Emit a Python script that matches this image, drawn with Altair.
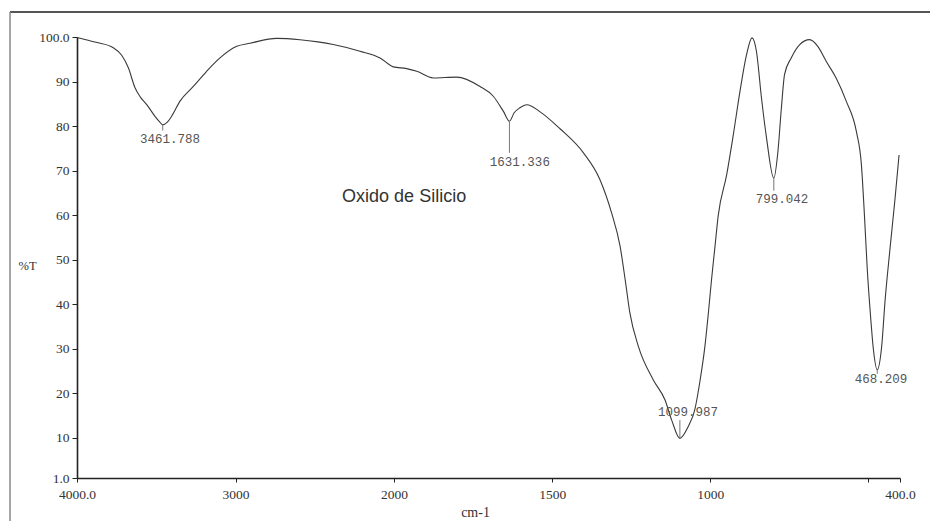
import altair as alt
import pandas as pd

# ---- spectrum ----
wavenumber = [4000, 3880, 3771, 3718, 3676, 3634, 3600, 3560, 3508, 3480, 3459, 3430,
              3403, 3350, 3266, 3182, 3098, 2992, 2908, 2740, 2593, 2480, 2383, 2215,
              2088, 2004, 1960, 1928, 1876, 1802, 1728, 1686, 1654, 1635, 1620, 1602,
              1580, 1538, 1475, 1401, 1349, 1312, 1285, 1269, 1254, 1227, 1180, 1143,
              1122, 1096, 1070, 1049, 1032, 1017, 1006, 996, 985, 975, 948, 927, 906,
              885, 868, 854, 838, 822, 799, 786, 775, 765, 744, 717, 686, 660, 633, 602,
              570, 538, 522, 512, 504, 493, 484, 472, 458, 447, 432, 416, 403]
transmittance = [99.9, 98.8, 97.6, 95.9, 93.1, 88.6, 86.5, 84.8, 82.2, 81.0, 80.3, 80.9,
                 82.2, 85.6, 88.9, 92.3, 95.3, 97.9, 98.6, 99.7, 99.4, 98.9, 98.3, 96.8,
                 95.3, 93.3, 92.9, 92.3, 90.8, 91.0, 88.9, 86.7, 83.3, 81.1, 83.0, 84.1,
                 84.8, 83.2, 79.4, 74.0, 68.0, 60.5, 53.0, 45.5, 38.0, 30.5, 23.0, 18.5,
                 14.0, 9.9, 12.5, 16.3, 23.0, 30.5, 38.0, 45.5, 53.0, 59.8, 69.1, 78.1, 87.8,
                 96.1, 99.8, 96.8, 86.3, 77.3, 68.3, 74.3, 84.1, 91.6, 95.3, 98.3, 99.4, 97.9,
                 94.5, 90.8, 85.6, 78.8, 71.3, 59.4, 48.5, 37.2, 29.8, 25.3, 30.5, 41.0,
                 52.2, 63.5, 73.5]

# ---- peak annotations ----
peak_labels = ["3461.788", "1631.336", "1099.987", "799.042", "468.209"]
peak_wn = [3459, 1635, 1096, 799, 472]
peak_t = [80.3, 81.1, 9.9, 68.3, 25.3]
marker_end_t = [79.0, 74.0, 14.0, 65.5, 24.4]
label_wn = [3413, 1602, 1070, 773, 460]
label_t = [77.2, 72.0, 15.8, 63.7, 23.2]

sample_name = ["Oxido de Silicio"]
sample_wn = [1968]
sample_t = [64.1]

# ---- axes ----
x_break = [4000, 2000, 400]
x_ticks = [4000, 3000, 2000, 1500, 1000, 500, 400]
x_tick_labels = ["4000.0", "3000", "2000", "1500", "1000", "", "400.0"]
y_ticks = [1, 10, 20, 30, 40, 50, 60, 70, 80, 90, 100]
y_tick_labels = ["1.0", "10", "20", "30", "40", "50", "60", "70", "80", "90", "100.0"]

W, H = 823, 441


def label_expr(values, labels):
    expr = "''"
    for v, l in reversed(list(zip(values, labels))):
        expr = f"datum.value == {v} ? '{l}' : ({expr})"
    return expr


serif = "Liberation Serif"
mono = "Liberation Mono"

x_scale = alt.Scale(domain=x_break, range=[0, round(W * 317 / 823), W], nice=False, zero=False)
y_scale = alt.Scale(domain=[1, 100], nice=False, zero=False)

x_axis = alt.Axis(values=x_ticks, labelExpr=label_expr(x_ticks, x_tick_labels),
                  title="cm-1", titleFont=serif, titleFontSize=14, titleFontWeight="normal",
                  titleColor="#333", titleX=398, titleY=34, titleAlign="center",
                  titleBaseline="middle", labelFont=serif, labelFontSize=13.5,
                  labelColor="#333", labelPadding=5, labelFlush=False, labelOverlap=False,
                  tickSize=4, tickColor="#222", domainColor="#222", domainWidth=1.6,
                  grid=False)
y_axis = alt.Axis(values=y_ticks, labelExpr=label_expr(y_ticks, y_tick_labels),
                  title="%T", titleFont=serif, titleFontSize=12.5, titleFontWeight="normal",
                  titleColor="#333", titleAngle=0, titleX=-50, titleY=228,
                  titleAlign="center", titleBaseline="middle", labelFont=serif,
                  labelFontSize=13.5, labelColor="#333", labelPadding=3, labelOverlap=False,
                  labelFlush=False, tickSize=5, tickColor="#222", domainColor="#222",
                  domainWidth=1.6, grid=False)

spec_df = pd.DataFrame({"wn": wavenumber, "t": transmittance})
peaks_df = pd.DataFrame({"wn": peak_wn, "t": peak_t, "t2": marker_end_t,
                         "lwn": label_wn, "lt": label_t, "label": peak_labels})
name_df = pd.DataFrame({"wn": sample_wn, "t": sample_t, "name": sample_name})
one = pd.DataFrame({"k": [0]})

spectrum = alt.Chart(spec_df).mark_line(color="#3a3a3a", strokeWidth=1.1,
                                        interpolate="monotone").encode(
    x=alt.X("wn:Q", scale=x_scale, axis=x_axis),
    y=alt.Y("t:Q", scale=y_scale, axis=y_axis),
)

markers = alt.Chart(peaks_df).mark_rule(color="#777", strokeWidth=1).encode(
    x=alt.X("wn:Q", scale=x_scale),
    y=alt.Y("t:Q", scale=y_scale),
    y2="t2:Q",
)

peak_text = alt.Chart(peaks_df).mark_text(font=mono, fontSize=12.5, color="#555",
                                          align="center", baseline="middle").encode(
    x=alt.X("lwn:Q", scale=x_scale),
    y=alt.Y("lt:Q", scale=y_scale),
    text="label:N",
)

name_text = alt.Chart(name_df).mark_text(font="Liberation Sans", fontSize=18,
                                         color="#333", align="center",
                                         baseline="middle").encode(
    x=alt.X("wn:Q", scale=x_scale),
    y=alt.Y("t:Q", scale=y_scale),
    text="name:N",
)

frame_top = alt.Chart(one).mark_rule(color="#555", strokeWidth=2).encode(
    x=alt.value(-67), x2=alt.value(W + 30), y=alt.value(-25))
frame_left = alt.Chart(one).mark_rule(color="#888", strokeWidth=1.5).encode(
    x=alt.value(-67), y=alt.value(-25), y2=alt.value(H + 43))

chart = alt.layer(frame_top, frame_left, spectrum, markers, peak_text, name_text).properties(
    width=W, height=H,
    autosize=alt.AutoSizeParams(type="none"),
    padding={"left": 77, "top": 37, "right": 30, "bottom": 43},
    background="white",
).configure_view(stroke=None)

chart.save("out.html", embed_options={"renderer": "svg", "actions": False})
